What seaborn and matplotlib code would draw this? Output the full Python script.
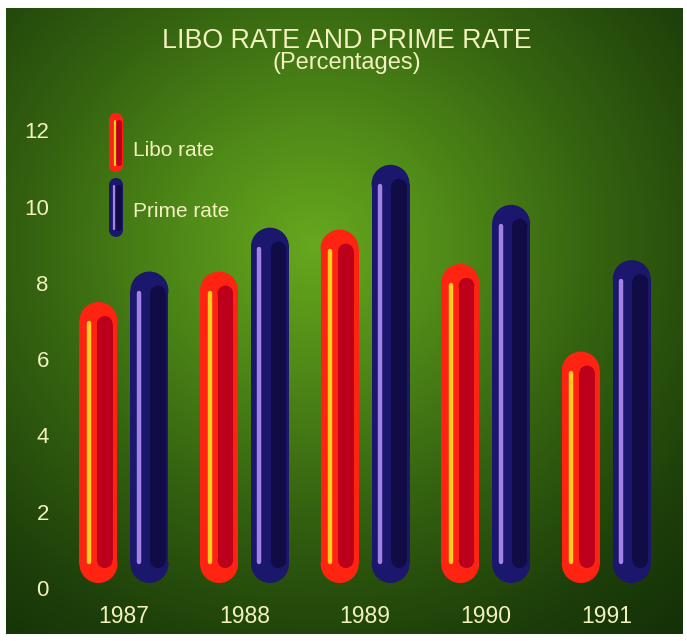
import numpy as np
import pandas as pd
import matplotlib
matplotlib.use('Agg')
import matplotlib.pyplot as plt
import seaborn as sns
from matplotlib.patches import Rectangle, Ellipse
from matplotlib.colors import to_rgba

# ---------------- data ----------------
years = ['1987', '1988', '1989', '1990', '1991']
libo_rate = [7.5, 8.3, 9.4, 8.5, 6.2]
prime_rate = [8.3, 9.45, 11.1, 10.05, 8.6]
series_names = ['Libo rate', 'Prime rate']
y_ticks = [0, 2, 4, 6, 8, 10, 12]
title = 'LIBO RATE AND PRIME RATE'
subtitle = '(Percentages)'

df = pd.DataFrame({
    'year': years * 2,
    'series': [series_names[0]] * len(years) + [series_names[1]] * len(years),
    'value': libo_rate + prime_rate,
})

# ---------------- style ----------------
sns.set_theme(style='white')
plt.rcParams['font.family'] = ['Liberation Sans', 'DejaVu Sans']
TXT = '#f3f1bd'
RED, RED_DARK, YELLOW = '#ff2412', '#bc001c', '#ffcc22'
NAVY, NAVY_DARK, LAVENDER = '#1a176c', '#110b46', '#a383e8'

W, H = 687, 641
fig = plt.figure(figsize=(W / 100, H / 100), dpi=100)
fig.patch.set_facecolor('white')

# ---------------- background (pixel coordinates) ----------------
bg = fig.add_axes([0, 0, 1, 1], zorder=0)
xs = np.arange(W) + 0.5
ys = np.arange(H) + 0.5
X, Y = np.meshgrid(xs, ys)
d = np.sqrt(((X - 315) / 440) ** 2 + ((Y - 245) / 410) ** 2)
stops = [0.0, 0.3, 0.65, 1.0, 1.4]
cols = np.array([[102, 168, 30], [80, 138, 24], [52, 98, 16],
                 [30, 64, 10], [14, 40, 6]]) / 255.0
img = np.zeros((H, W, 3))
for c in range(3):
    img[..., c] = np.interp(d, stops, cols[:, c])
img[:8, :, :] = 1
img[634:, :, :] = 1
img[:, :6, :] = 1
img[:, 683:, :] = 1
bg.imshow(img, extent=(0, W, H, 0), interpolation='bilinear', aspect='auto')
bg.set_xlim(0, W)
bg.set_ylim(H, 0)
bg.axis('off')

# ---------------- main axes ----------------
ax = fig.add_axes([51.6 / W, (H - 599.4) / H, 627 / W, 491.8 / H], zorder=2)
ax.patch.set_alpha(0)
palette = {series_names[0]: RED, series_names[1]: NAVY}
sns.barplot(data=df, x='year', y='value', hue='series', hue_order=series_names,
            palette=palette, width=0.845, gap=0.254, legend=False,
            errorbar=None, saturation=1, ax=ax)
ax.set_xlim(-0.6, 4.6)
ax.set_ylim(-0.3, 12.6)
ax.set_yticks(y_ticks)
ax.set_yticklabels([str(t) for t in y_ticks])
ax.set_xlabel('')
ax.set_ylabel('')
for s in ax.spines.values():
    s.set_visible(False)
ax.tick_params(axis='y', length=0, colors=TXT, labelsize=16, pad=2)
ax.tick_params(axis='x', length=0, colors=TXT, labelsize=16.5, pad=4)

# pixel size in data units
p0 = ax.transData.transform((0, 0))
p1 = ax.transData.transform((1, 1))
PX = 1.0 / (p1[0] - p0[0])
PY = 1.0 / (p1[1] - p0[1])


def capsule(x0, x1, y0, y1, color, z):
    w = x1 - x0
    ry = (w / 2) * PY / PX
    xc = (x0 + x1) / 2
    ax.add_patch(Rectangle((x0, y0 + ry), w, max(y1 - y0 - 2 * ry, 0),
                           fc=color, ec='none', lw=0, zorder=z))
    ax.add_patch(Ellipse((xc, y1 - ry), w, 2 * ry, fc=color, ec='none', lw=0, zorder=z))
    ax.add_patch(Ellipse((xc, y0 + ry), w, 2 * ry, fc=color, ec='none', lw=0, zorder=z))


bottom = 0.13
bars = list(ax.patches)
for p in bars:
    fc = p.get_facecolor()
    x0 = p.get_x()
    w = p.get_width()
    top = p.get_height()
    x1 = x0 + w
    is_libo = np.allclose(fc, to_rgba(RED))
    p.set_visible(False)
    capsule(x0, x1, bottom, top, RED if is_libo else NAVY, 3)
    if is_libo:
        sx0, sx1, dark, hl, hlx = 0.46, 0.87, RED_DARK, YELLOW, 9.5
    else:
        sx0, sx1, dark, hl, hlx = 0.52, 0.93, NAVY_DARK, LAVENDER, 8.5
    capsule(x0 + sx0 * w, x0 + sx1 * w, bottom + 15 * PY, top - 14 * PY, dark, 4)
    ax.plot([x0 + hlx * PX, x0 + hlx * PX], [bottom + 21 * PY, top - 21 * PY],
            color=hl, lw=3.2, solid_capstyle='round', zorder=5)

# ---------------- titles ----------------
fig.text(346.5 / W, 1 - 48 / H, title, ha='center', va='baseline',
         fontsize=19.3, color=TXT)
fig.text(346.5 / W, 1 - 69 / H, subtitle, ha='center', va='baseline',
         fontsize=17, color=TXT)


# ---------------- legend (pixel coordinates on background) ----------------
def capsule_px(x0, x1, ytop, ybot, color, z):
    w = x1 - x0
    r = w / 2
    xc = (x0 + x1) / 2
    bg.add_patch(Rectangle((x0, ytop + r), w, ybot - ytop - 2 * r,
                           fc=color, ec='none', lw=0, zorder=z))
    bg.add_patch(Ellipse((xc, ytop + r), w, w, fc=color, ec='none', lw=0, zorder=z))
    bg.add_patch(Ellipse((xc, ybot - r), w, w, fc=color, ec='none', lw=0, zorder=z))


capsule_px(109, 123, 113, 172, RED, 3)
capsule_px(116, 122, 120, 166, RED_DARK, 4)
bg.plot([114.5, 114.5], [121, 165], color=YELLOW, lw=1.6,
        solid_capstyle='round', zorder=5)
capsule_px(109, 123, 178, 237, NAVY, 3)
capsule_px(116, 122, 185, 231, NAVY_DARK, 4)
bg.plot([113.5, 113.5], [186, 229], color=LAVENDER, lw=1.6,
        solid_capstyle='round', zorder=5)
bg.text(133, 156, series_names[0], ha='left', va='baseline', fontsize=15, color=TXT)
bg.text(133, 217, series_names[1], ha='left', va='baseline', fontsize=15, color=TXT)

fig.savefig('out.png', dpi=100, facecolor='white')
